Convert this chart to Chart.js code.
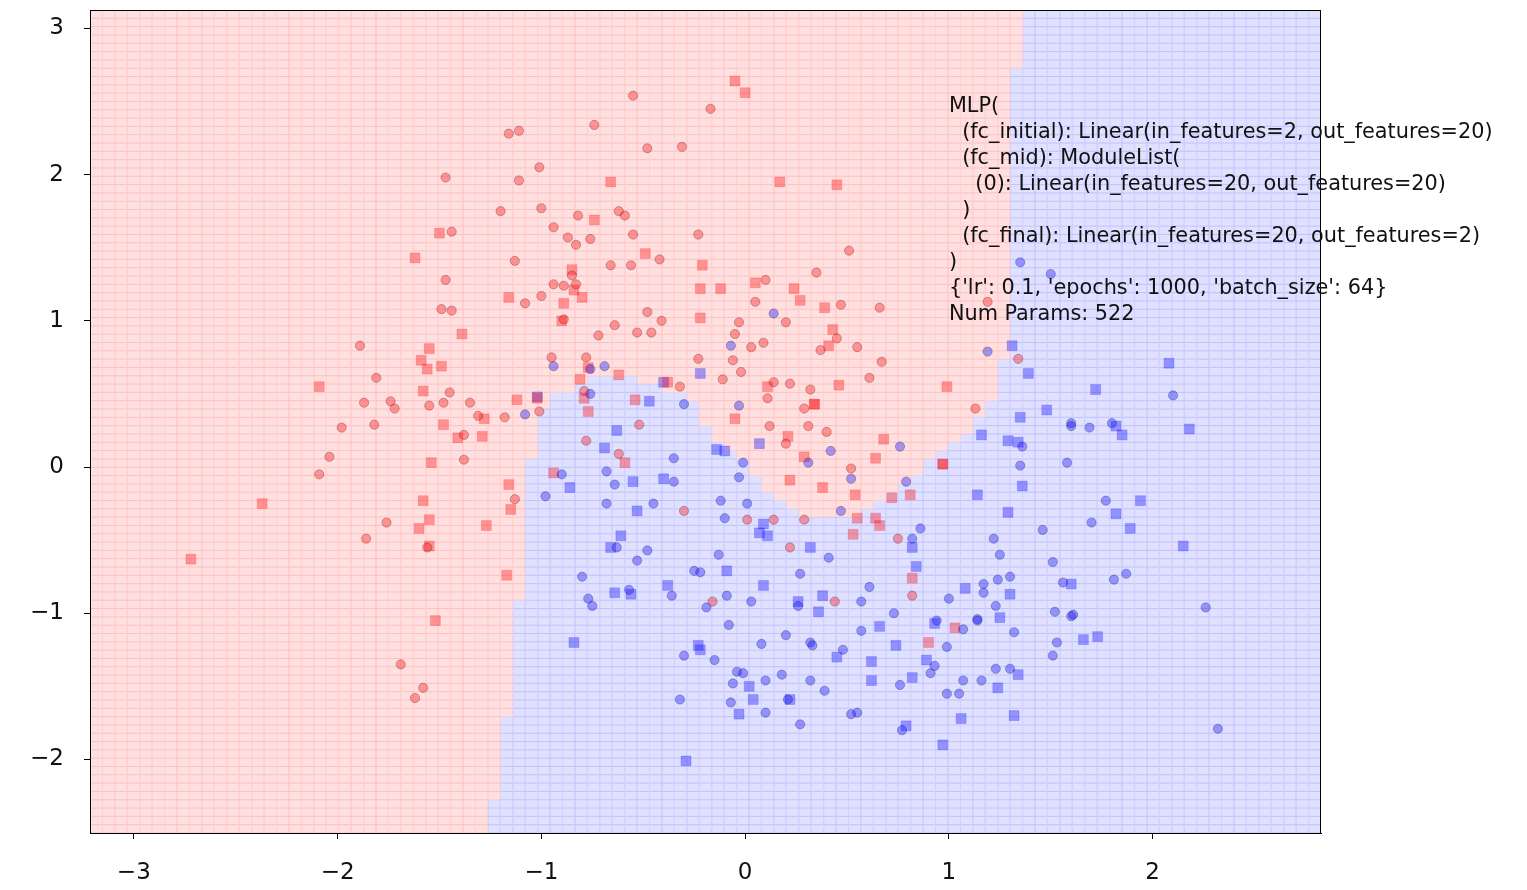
<!DOCTYPE html>
<html>
<head>
<meta charset="utf-8">
<script src="https://cdn.jsdelivr.net/npm/chart.js@4.4.0/dist/chart.umd.min.js"></script>
<style>
  html, body { margin: 0; padding: 0; background: #ffffff; }
  #wrap { width: 1527px; height: 890px; position: relative; }
</style>
</head>
<body>
<div id="wrap"><canvas id="chart" width="1527" height="890"></canvas></div>
<script>
// Axis extents (the decision grid spans exactly these ranges)
const xRange = [-3.215, 2.826];
const yRange = [-2.503, 3.126];
const gridCells = 99;              // cells per axis of the decision grid
const xTicks = [-3, -2, -1, 0, 1, 2];
const yTicks = [-2, -1, 0, 1, 2, 3];

// Outline of the region the model assigns to class 0 (red)
const redRegion = [
  [-3.3, 3.2], [1.354, 3.2], [1.354, 2.750], [1.295, 2.750], [1.295, 0.746], [1.237, 0.746],
  [1.237, 0.506], [1.173, 0.390], [1.114, 0.253], [1.006, 0.150], [0.932, 0.062], [0.859, -0.021],
  [0.785, -0.123], [0.692, -0.219], [0.608, -0.280], [0.564, -0.349], [0.270, -0.349], [0.211, -0.287],
  [0.142, -0.219], [0.069, -0.062], [-0.015, 0.048], [-0.069, 0.096], [-0.167, 0.226], [-0.221, 0.349],
  [-0.270, 0.458], [-0.358, 0.527], [-0.540, 0.561], [-0.540, 0.629], [-0.780, 0.629], [-0.780, 0.554],
  [-0.903, 0.506], [-0.967, 0.458], [-1.021, 0.335], [-1.021, 0.062], [-1.084, 0.062], [-1.084, -0.910],
  [-1.143, -0.910], [-1.143, -1.710], [-1.212, -1.710], [-1.212, -2.278], [-1.266, -2.278], [-1.266, -2.6],
  [-3.3, -2.6]
];

// Training samples (circles)
const trainRed = [
  [-0.55,2.54],[-0.74,2.34],[-1.16,2.28],[-1.11,2.30],[-0.48,2.18],[-0.31,2.19],[-1.01,2.05],[-1.47,1.98],
  [-1.11,1.96],[-1.20,1.75],[-1.00,1.77],[-0.82,1.72],[-0.62,1.75],[-0.59,1.72],[-1.44,1.61],[-0.94,1.64],
  [-0.87,1.57],[-0.83,1.52],[-0.76,1.56],[-0.55,1.59],[-0.23,1.59],[-0.42,1.42],[-1.13,1.41],[-0.66,1.38],
  [-0.56,1.38],[-1.47,1.28],[-0.85,1.31],[-0.94,1.25],[-0.89,1.24],[-0.83,1.25],[-1.00,1.17],[-1.08,1.12],
  [-0.17,2.45],[0.51,1.48],[0.35,1.33],[0.10,1.28],[0.05,1.13],[0.47,1.11],[0.66,1.09],[-1.49,1.08],
  [-1.44,1.07],[-0.48,1.06],[-0.41,1.00],[-0.89,1.01],[-0.64,0.97],[-0.72,0.90],[-0.53,0.92],[-0.46,0.92],
  [-0.95,0.75],[-0.78,0.75],[-0.23,0.74],[-0.32,0.55],[-1.45,0.51],[-0.79,0.52],[-1.48,0.44],[-1.35,0.44],
  [-1.31,0.35],[-1.18,0.34],[-1.01,0.38],[-0.52,0.29],[-1.38,0.22],[-0.78,0.18],[-1.38,0.05],[-0.62,0.09],
  [-1.13,-0.22],[-0.30,-0.30],
  [-1.89,0.83],[-1.81,0.61],[-1.87,0.44],[-1.74,0.45],[-1.72,0.40],[-1.55,0.42],[-1.82,0.29],[-1.98,0.27],
  [-2.04,0.07],[-2.09,-0.05],[-1.76,-0.38],[-1.86,-0.49],[-1.56,-0.55],[-1.69,-1.35],[-1.58,-1.51],[-1.62,-1.58],
  [-0.03,0.99],[0.20,0.99],[-0.05,0.91],[0.45,0.88],[0.37,0.80],[0.55,0.82],[0.03,0.82],[0.09,0.85],
  [-0.06,0.73],[0.67,0.72],[-0.02,0.65],[0.61,0.61],[-0.11,0.60],[0.14,0.58],[0.22,0.57],[0.32,0.53],
  [0.11,0.47],[0.29,0.40],[0.12,0.28],[0.31,0.28],[0.40,0.24],[0.20,0.16],[0.52,-0.01],[0.01,-0.36],
  [0.14,-0.36],[0.29,-0.36],[0.75,-0.49],[1.19,1.13],[1.34,0.74],[1.13,0.40],
  [-0.16,-0.92],[0.22,-0.55],[0.44,-0.92],[0.82,-0.88]
];
const trainBlue = [
  [1.35,1.40],[1.50,1.32],[1.19,0.79],[2.10,0.49],[1.60,0.30],[1.60,0.28],[1.69,0.27],[1.80,0.30],
  [1.36,0.14],[1.35,0.01],[1.58,0.03],
  [-0.94,0.69],[-0.76,0.67],[-0.69,0.69],[-0.76,0.50],[-0.30,0.43],[-1.08,0.36],[-0.35,0.06],[-0.68,-0.03],
  [-0.90,-0.05],[-0.35,-0.10],[-0.64,-0.12],[-0.98,-0.20],[-0.68,-0.25],[-0.45,-0.25],
  [0.14,1.05],[-0.07,0.83],[-0.03,0.42],[0.76,0.14],[0.42,0.11],[0.31,0.03],[-0.01,0.03],[-0.03,-0.07],
  [0.52,-0.08],[0.79,-0.10],[-0.12,-0.23],[0.01,-0.25],[0.47,-0.30],[-0.10,-0.35],[0.86,-0.42],[0.82,-0.49],
  [1.77,-0.23],[1.70,-0.38],[1.46,-0.43],[1.22,-0.49],[1.25,-0.60],[1.51,-0.65],[1.30,-0.75],[1.24,-0.77],
  [1.17,-0.80],[1.17,-0.86],[1.56,-0.79],[1.81,-0.77],[1.87,-0.73],[1.23,-0.95],[1.14,-1.04],[1.52,-0.99],
  [1.60,-1.02],[1.61,-1.01],[2.26,-0.96],[1.32,-1.13],[1.53,-1.20],[1.51,-1.29],[1.23,-1.38],[1.30,-1.38],
  [1.16,-1.46],[2.32,-1.79],
  [-0.63,-0.55],[-0.48,-0.57],[-0.53,-0.64],[-0.13,-0.60],[-0.25,-0.71],[-0.22,-0.72],[-0.80,-0.75],[-0.57,-0.84],
  [-0.36,-0.88],[-0.19,-0.96],[-0.09,-0.88],[0.03,-0.92],[-0.77,-0.90],[-0.75,-0.95],[-0.08,-1.08],[-0.30,-1.29],
  [-0.15,-1.32],[0.08,-1.21],[-0.04,-1.40],[-0.01,-1.41],[0.10,-1.46],[-0.06,-1.48],[-0.32,-1.59],[-0.07,-1.61],
  [0.10,-1.68],
  [0.41,-0.62],[0.27,-0.73],[0.61,-0.82],[1.00,-0.90],[0.26,-0.95],[0.57,-0.92],[0.73,-1.00],[0.94,-1.05],
  [1.07,-1.11],[1.14,-1.05],[0.57,-1.12],[0.20,-1.15],[0.32,-1.20],[0.33,-1.22],[0.48,-1.25],[0.99,-1.23],
  [0.93,-1.36],[0.91,-1.41],[0.18,-1.42],[0.32,-1.46],[0.39,-1.53],[0.76,-1.49],[1.07,-1.46],[0.99,-1.55],
  [1.05,-1.55],[0.21,-1.59],[0.52,-1.69],[0.55,-1.68],[0.77,-1.80],[0.27,-1.76]
];

// Held-out samples (squares)
const testRed = [
  [-1.62,1.43],[-1.50,1.60],[-0.66,1.95],[-0.74,1.69],[-0.49,1.46],[-0.21,1.38],[-0.85,1.35],[-0.84,1.21],
  [-0.80,1.16],[-1.16,1.16],[-0.89,1.12],[-0.22,1.22],[-0.05,2.64],[0.00,2.56],[0.17,1.95],[0.45,1.93],
  [0.05,1.26],[-0.12,1.22],[0.24,1.22],[0.27,1.14],[0.39,1.09],[-0.22,1.02],[-0.90,1.00],[-1.39,0.91],
  [-1.49,0.69],[-0.77,0.68],[-0.62,0.63],[-0.81,0.60],[-0.38,0.58],[-1.12,0.46],[-1.02,0.47],[-0.79,0.47],
  [-0.54,0.46],[-1.28,0.33],[-0.77,0.38],[-1.48,0.29],[-1.41,0.20],[-1.29,0.21],[-0.59,0.03],[-0.94,-0.04],
  [-1.16,-0.12],[-1.15,-0.29],[-1.27,-0.40],
  [-1.55,0.81],[-1.59,0.73],[-1.56,0.67],[-2.09,0.55],[-1.58,0.52],[-1.54,0.03],[-2.37,-0.25],[-1.58,-0.23],
  [-1.55,-0.36],[-1.60,-0.42],[-1.55,-0.54],[-2.72,-0.63],[-1.52,-1.05],[-1.17,-0.74],
  [0.43,0.94],[0.41,0.83],[0.11,0.55],[0.46,0.56],[0.99,0.55],[0.34,0.43],[0.34,0.43],[-0.05,0.33],
  [0.21,0.21],[0.68,0.19],[0.29,0.07],[0.64,0.06],[0.97,0.02],[0.97,0.02],[0.22,-0.09],[0.38,-0.14],
  [0.54,-0.19],[0.81,-0.19],[0.72,-0.21],[0.55,-0.35],[0.64,-0.35],[0.66,-0.40],[0.53,-0.46],
  [0.82,-0.76],[1.03,-1.10],[0.90,-1.20]
];
const testBlue = [
  [1.31,0.83],[1.39,0.64],[1.72,0.53],[2.08,0.71],[1.48,0.39],[1.35,0.34],[1.82,0.28],[1.85,0.22],
  [2.18,0.26],[1.16,0.22],[1.29,0.18],[1.34,0.17],[1.36,-0.13],
  [-0.22,0.64],[-0.40,0.58],[-1.02,0.48],[-0.47,0.45],[-0.63,0.25],[-0.69,0.13],[-0.55,-0.10],[-0.40,-0.08],
  [-0.86,-0.14],[-0.53,-0.30],[-0.61,-0.47],
  [0.07,0.16],[-0.14,0.12],[-0.10,0.11],[0.09,-0.39],[0.07,-0.45],[0.11,-0.47],
  [1.14,-0.19],[1.94,-0.23],[1.29,-0.31],[1.82,-0.32],[1.89,-0.42],[2.15,-0.54],[1.60,-0.80],[1.30,-0.87],
  [1.25,-1.03],[1.66,-1.18],[1.73,-1.16],[1.34,-1.42],[1.24,-1.51],[1.32,-1.70],
  [-0.66,-0.55],[-0.09,-0.71],[-0.64,-0.86],[-0.56,-0.87],[-0.38,-0.81],[0.09,-0.81],[-0.84,-1.20],[-0.23,-1.22],
  [-0.22,-1.25],[0.02,-1.50],[0.04,-1.59],[-0.03,-1.69],[-0.29,-2.01],
  [0.32,-0.55],[0.82,-0.55],[0.84,-0.68],[1.08,-0.83],[0.26,-0.92],[0.38,-0.88],[0.36,-0.99],[0.93,-1.07],
  [0.66,-1.09],[0.74,-1.22],[0.45,-1.30],[0.62,-1.33],[0.89,-1.32],[0.62,-1.46],[0.82,-1.44],[0.22,-1.59],
  [0.79,-1.77],[1.06,-1.72],[0.97,-1.90]
];

// Model description printed on the axes
const modelSummary = [
  'MLP(',
  '  (fc_initial): Linear(in_features=2, out_features=20)',
  '  (fc_mid): ModuleList(',
  '    (0): Linear(in_features=20, out_features=20)',
  '  )',
  '  (fc_final): Linear(in_features=20, out_features=2)',
  ')',
  "{'lr': 0.1, 'epochs': 1000, 'batch_size': 64}",
  'Num Params: 522'
];
const summaryAnchor = [1.0, 1.0];   // data position of the text block's lower-left corner

// ---------------------------------------------------------------------------
function insidePolygon(x, y, poly) {
  let inside = false;
  for (let i = 0, j = poly.length - 1; i < poly.length; j = i++) {
    const [xi, yi] = poly[i], [xj, yj] = poly[j];
    if ((yi > y) !== (yj > y) && x < (xj - xi) * (y - yi) / (yj - yi) + xi) inside = !inside;
  }
  return inside;
}

// Decision grid: each cell is a floating bar slightly inset from its slot, laid
// over a darker run of the same class so the slot edges read as grid lines.
const dx = (xRange[1] - xRange[0]) / gridCells;
const dy = (yRange[1] - yRange[0]) / gridCells;
const insetY = 0.062 * dy;         // vertical inset on each side of a cell
const cells = { red: [], blue: [] };
const runs = { red: [], blue: [] };
for (let c = 0; c < gridCells; c++) {
  const cx = xRange[0] + (c + 0.5) * dx;
  let runStart = 0, runClass = null;
  for (let r = 0; r <= gridCells; r++) {
    let cls = null;
    if (r < gridCells) {
      const y0 = yRange[0] + r * dy;
      cls = insidePolygon(cx, y0 + dy / 2, redRegion) ? 'red' : 'blue';
      cells[cls].push({ x: cx, y: [y0 + insetY, y0 + dy - insetY] });
    }
    if (cls !== runClass) {
      if (runClass) runs[runClass].push({ x: cx, y: [yRange[0] + runStart * dy, yRange[0] + r * dy] });
      runClass = cls; runStart = r;
    }
  }
}

const toXY = arr => arr.map(([x, y]) => ({ x, y }));
const minus = v => (v < 0 ? '\u2212' + Math.abs(v) : String(v));
const tickFont = { family: '"DejaVu Sans", sans-serif', size: 23 };

const barLayer = (data, color, widthShare, order) => ({
  type: 'bar',
  data,
  backgroundColor: color,
  borderWidth: 0,
  inflateAmount: 0,
  barPercentage: widthShare,
  categoryPercentage: 1,
  grouped: false,
  order
});

const frameAndText = {
  id: 'frameAndText',
  afterDatasetsDraw(chart) {
    const { ctx, chartArea: a } = chart;
    ctx.save();
    ctx.strokeStyle = '#000';
    ctx.lineWidth = 1;
    ctx.strokeRect(Math.round(a.left) + 0.5, Math.round(a.top) + 0.5,
                   Math.round(a.right - a.left) - 1, Math.round(a.bottom - a.top));
    ctx.restore();
  },
  afterDraw(chart) {
    const { ctx, scales } = chart;
    const x = scales.x.getPixelForValue(summaryAnchor[0]);
    const yBottom = scales.y.getPixelForValue(summaryAnchor[1]);
    const lineH = 26;
    ctx.save();
    ctx.font = '20.8px "DejaVu Sans", sans-serif';
    ctx.fillStyle = '#111';
    ctx.textBaseline = 'alphabetic';
    const n = modelSummary.length;
    modelSummary.forEach((line, i) => {
      ctx.fillText(line, x, yBottom - 1 - (n - 1 - i) * lineH);
    });
    ctx.restore();
  }
};

new Chart(document.getElementById('chart'), {
  type: 'scatter',
  data: {
    datasets: [
      { type: 'scatter', data: toXY(trainRed), pointStyle: 'circle', radius: 4.6,
        backgroundColor: 'rgba(255,0,0,0.34)', borderColor: 'rgba(70,20,20,0.3)', borderWidth: 1, order: 1 },
      { type: 'scatter', data: toXY(trainBlue), pointStyle: 'circle', radius: 4.6,
        backgroundColor: 'rgba(0,0,255,0.34)', borderColor: 'rgba(20,20,70,0.3)', borderWidth: 1, order: 1 },
      { type: 'scatter', data: toXY(testRed), pointStyle: 'rect', radius: 7,
        backgroundColor: 'rgba(255,0,0,0.34)', borderColor: 'rgba(255,0,0,0.18)', borderWidth: 1, order: 1 },
      { type: 'scatter', data: toXY(testBlue), pointStyle: 'rect', radius: 7,
        backgroundColor: 'rgba(0,0,255,0.34)', borderColor: 'rgba(0,0,255,0.18)', borderWidth: 1, order: 1 },
      barLayer(cells.red, '#ffe0e0', 0.915, 5),
      barLayer(cells.blue, '#e0e0ff', 0.915, 5),
      barLayer(runs.red, '#ffc0c0', 1, 6),
      barLayer(runs.blue, '#c2c2ff', 1, 6)
    ]
  },
  options: {
    responsive: false,
    animation: false,
    events: [],
    layout: { padding: { left: 0, right: 206, top: 10, bottom: 0 } },
    plugins: { legend: { display: false }, tooltip: { enabled: false } },
    scales: {
      x: {
        type: 'linear', min: xRange[0], max: xRange[1], offset: false,
        afterBuildTicks: s => { s.ticks = xTicks.map(v => ({ value: v })); },
        afterFit: s => { s.height = 57; s.paddingLeft = 0; s.paddingRight = 0; },
        ticks: { callback: v => minus(v), font: tickFont, color: '#111', padding: 20, maxRotation: 0, autoSkip: false },
        grid: { drawOnChartArea: false, tickLength: 6, tickColor: '#000', tickWidth: 1, offset: false },
        border: { display: true, color: '#000', width: 1 }
      },
      y: {
        type: 'linear', min: yRange[0], max: yRange[1],
        afterBuildTicks: s => { s.ticks = yTicks.map(v => ({ value: v })); },
        afterFit: s => { s.width = 90; s.paddingTop = 0; s.paddingBottom = 0; },
        ticks: { callback: v => minus(v), font: tickFont, color: '#111', padding: 20, autoSkip: false },
        grid: { drawOnChartArea: false, tickLength: 6, tickColor: '#000', tickWidth: 1 },
        border: { display: true, color: '#000', width: 1 }
      }
    }
  },
  plugins: [frameAndText]
});
</script>
</body>
</html>
